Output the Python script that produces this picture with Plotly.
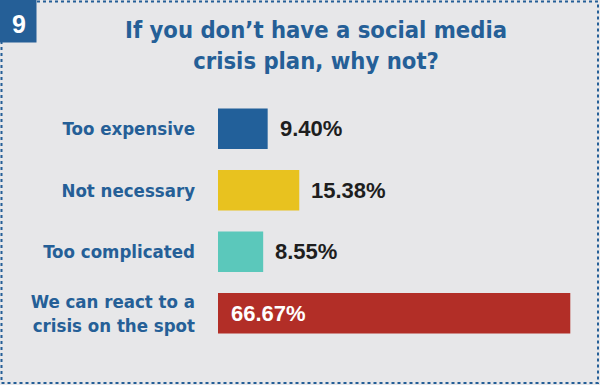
import plotly.graph_objects as go

categories = ["Too expensive", "Not necessary", "Too complicated", "We can react to a<br>crisis on the spot"]
values = [9.40, 15.38, 8.55, 66.67]
value_labels = ["9.40%", "15.38%", "8.55%", "66.67%"]
colors = ["#22609a", "#e8c21f", "#5bc8bb", "#b22e27"]
title_text = "If you don’t have a social media<br>crisis plan, why not?"
badge_text = "9"

W, H = 600, 385
L, R, T, B = 218, 10, 98, 41
pw, ph = W - L - R, H - T - B

def px(x):
    return (x - L) / pw

def py(y):
    return (H - B - y) / ph

BLUE = "#255f97"
BG = "#e7e7e9"
LABEL_FONT = "DejaVu Sans Condensed, Liberation Sans, sans-serif"
VALUE_FONT = "Liberation Sans, Arial, sans-serif"

fig = go.Figure(go.Bar(
    y=categories, x=values, orientation="h",
    marker=dict(color=colors, line=dict(width=0)),
    width=0.655, hoverinfo="skip",
))

for cat, val, lab in zip(categories, values, value_labels):
    inside = val > 40
    fig.add_annotation(
        x=0 if inside else val, y=cat, xref="x", yref="y",
        text=f"<b>{lab}</b>", showarrow=False, xanchor="left", yanchor="middle",
        xshift=11 if inside else 10,
        font=dict(family=VALUE_FONT, size=22, color="#ffffff" if inside else "#1e1e1e"),
    )

fig.update_layout(
    width=W, height=H,
    margin=dict(l=L, r=R, t=T, b=B, autoexpand=False),
    paper_bgcolor=BG, plot_bgcolor=BG,
    showlegend=False,
    xaxis=dict(range=[0, 70.4], visible=False, fixedrange=True, automargin=False),
    yaxis=dict(autorange="reversed", showgrid=False, zeroline=False, showline=False,
               ticks="", ticklabelstandoff=22, automargin=False, fixedrange=True,
               tickfont=dict(family=LABEL_FONT, size=18.5, color=BLUE, weight="bold")),
)

# title
fig.add_annotation(
    xref="paper", yref="paper", x=px(316), y=py(46), text=f"<b>{title_text}</b>",
    showarrow=False, xanchor="center", yanchor="middle",
    font=dict(family=LABEL_FONT, size=23.6, color=BLUE),
)

# dotted border
fig.add_shape(type="rect", xref="paper", yref="paper",
              x0=px(1.5), x1=px(598), y0=py(383), y1=py(1.5),
              line=dict(color=BLUE, width=2, dash="dot"), fillcolor="rgba(0,0,0,0)", layer="below")
# badge
fig.add_shape(type="rect", xref="paper", yref="paper",
              x0=px(0), x1=px(36.5), y0=py(42.5), y1=py(0),
              line=dict(width=0), fillcolor=BLUE, layer="above")
fig.add_annotation(
    xref="paper", yref="paper", x=px(18.5), y=py(23.5), text=f"<b>{badge_text}</b>",
    showarrow=False, xanchor="center", yanchor="middle",
    font=dict(family=VALUE_FONT, size=25, color="#ffffff"),
)

fig.write_html(
    "out.html",
    config={"displayModeBar": False, "staticPlot": True},
    post_script="document.body.style.margin='0';document.body.style.padding='0';",
)
